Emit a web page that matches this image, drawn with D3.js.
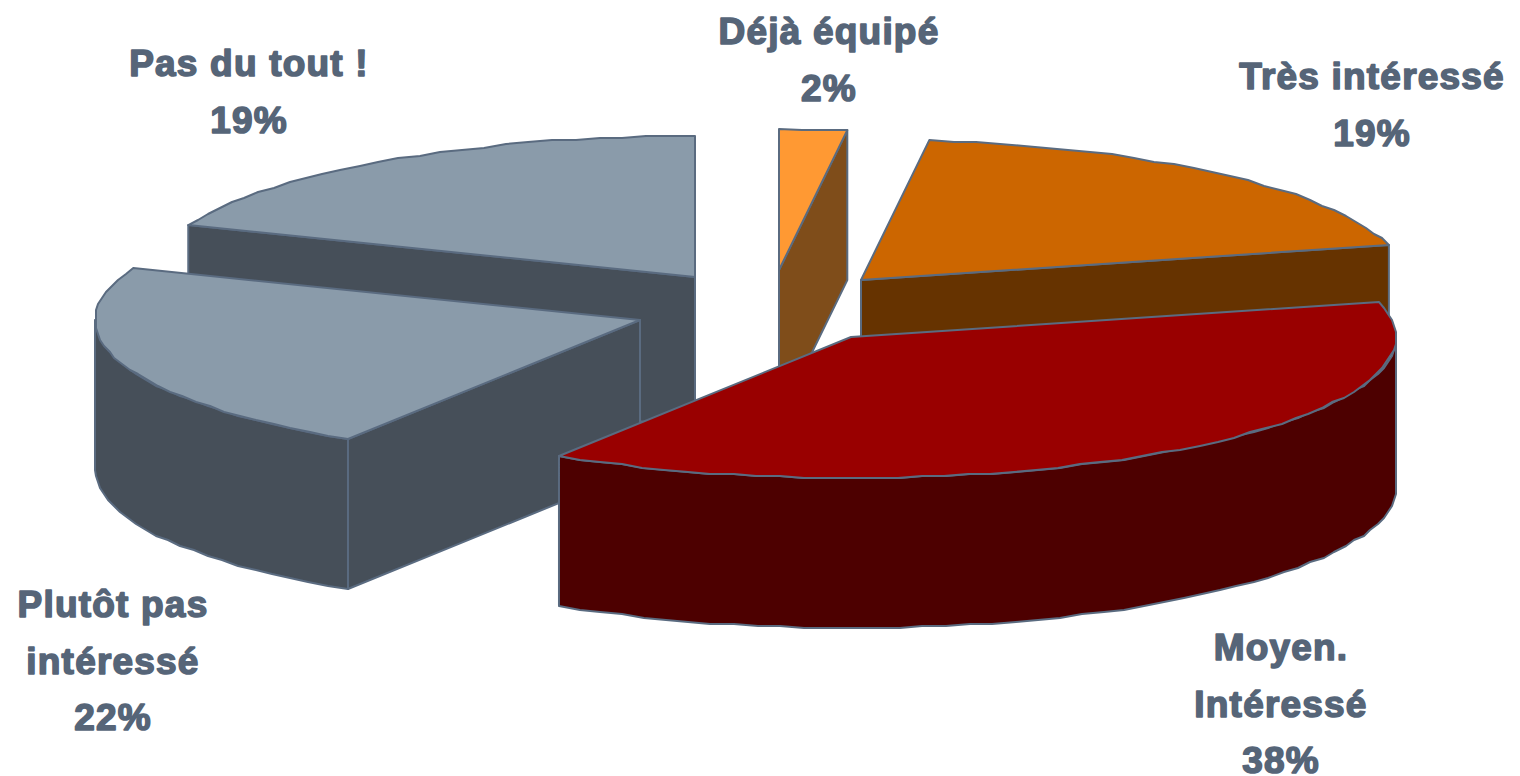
<!DOCTYPE html>
<html><head><meta charset="utf-8">
<script src="https://cdn.jsdelivr.net/npm/d3@7/dist/d3.min.js"></script>
<style>html,body{margin:0;padding:0;background:#fff;overflow:hidden}svg{display:block}</style>
</head><body><svg id="c" width="1520" height="776"></svg>
<script>
// Data, clockwise from 12 o'clock
const categories = [["Déjà équipé"],["Très intéressé"],["Moyen.","Intéressé"],["Plutôt pas","intéressé"],["Pas du tout !"]];
const values = [2,19,38,22,19];
// Layout & style
const topColors  = ["#FF9933","#CC6600","#990000","#8A9BAA","#8A9BAA"];
const sideColors = ["#7F4D1A","#663300","#4D0000","#464F59","#464F59"];
const centers = [[779,270],[861,280],[851,337],[640,320],[695,277]];
const labelPos = [[829,44],[1372,89],[1281,660],[113,617],[249,76]];
const drawOrder = [4,0,1,3,2];
const RX=545, RY=141, DEPTH=150, STEP=Math.PI/72;
const LINE=56.5, INK="#566578";

const svg=d3.select("#c");
const arcs=d3.pie().sort(null).value(d=>d)(values);
const sx=d3.scaleLinear([-1,1],[-RX,RX]), sy=d3.scaleLinear([-1,1],[-RY,RY]);
const pt=(i,a)=>[centers[i][0]+sx(Math.sin(a)), centers[i][1]+sy(-Math.cos(a))];
const snap=p=>[Math.round(p[0]/2)*2, Math.round(p[1]/2)*2];
const down=p=>[p[0],p[1]+DEPTH];
function rim(i,a0,a1){
  const pts=[pt(i,a0)];
  const n=Math.max(1,Math.round((a1-a0)/STEP));
  for(let k=1;k<n;k++) pts.push(snap(pt(i,a0+(a1-a0)*k/n)));
  pts.push(pt(i,a1));
  return pts;
}
const line=d3.line();
function poly(pts,fill,sw){
  svg.append("path").attr("d",line(pts)+"Z").attr("fill",fill)
     .attr("stroke","#5A6B80").attr("stroke-width",sw).attr("stroke-linejoin","round");
}
drawOrder.forEach(i=>{
  const a=arcs[i], c=centers[i], side=sideColors[i];
  const a0=a.startAngle,a1=a.endAngle;
  // radial cut faces turned towards the viewer
  if(Math.sin(a0)<-1e-6){const p=pt(i,a0);poly([c,p,down(p),down(c)],side,2);}
  if(Math.sin(a1)>1e-6){const p=pt(i,a1);poly([c,p,down(p),down(c)],side,2);}
  // outer wall: the part of the rim facing front
  const w0=Math.max(a0,Math.PI/2), w1=Math.min(a1,Math.PI*1.5);
  if(w1>w0){const r=rim(i,w0,w1);poly(r.concat(r.slice().reverse().map(down)),side,2);}
  // top face
  poly([c].concat(rim(i,a0,a1)),topColors[i],2);
});
categories.forEach((lines,i)=>{
  const [x,y]=labelPos[i];
  lines.concat([values[i]+"%"]).forEach((t,k)=>{
    svg.append("text").attr("x",x).attr("y",y+k*LINE).attr("text-anchor","middle")
      .attr("font-family","'Liberation Sans',Arial,sans-serif").attr("font-weight","700")
      .attr("font-size",37).attr("letter-spacing",1.2)
      .attr("fill",INK).attr("stroke",INK).attr("stroke-width",1.6).attr("stroke-linejoin","round")
      .text(t);
  });
});
</script></body></html>
